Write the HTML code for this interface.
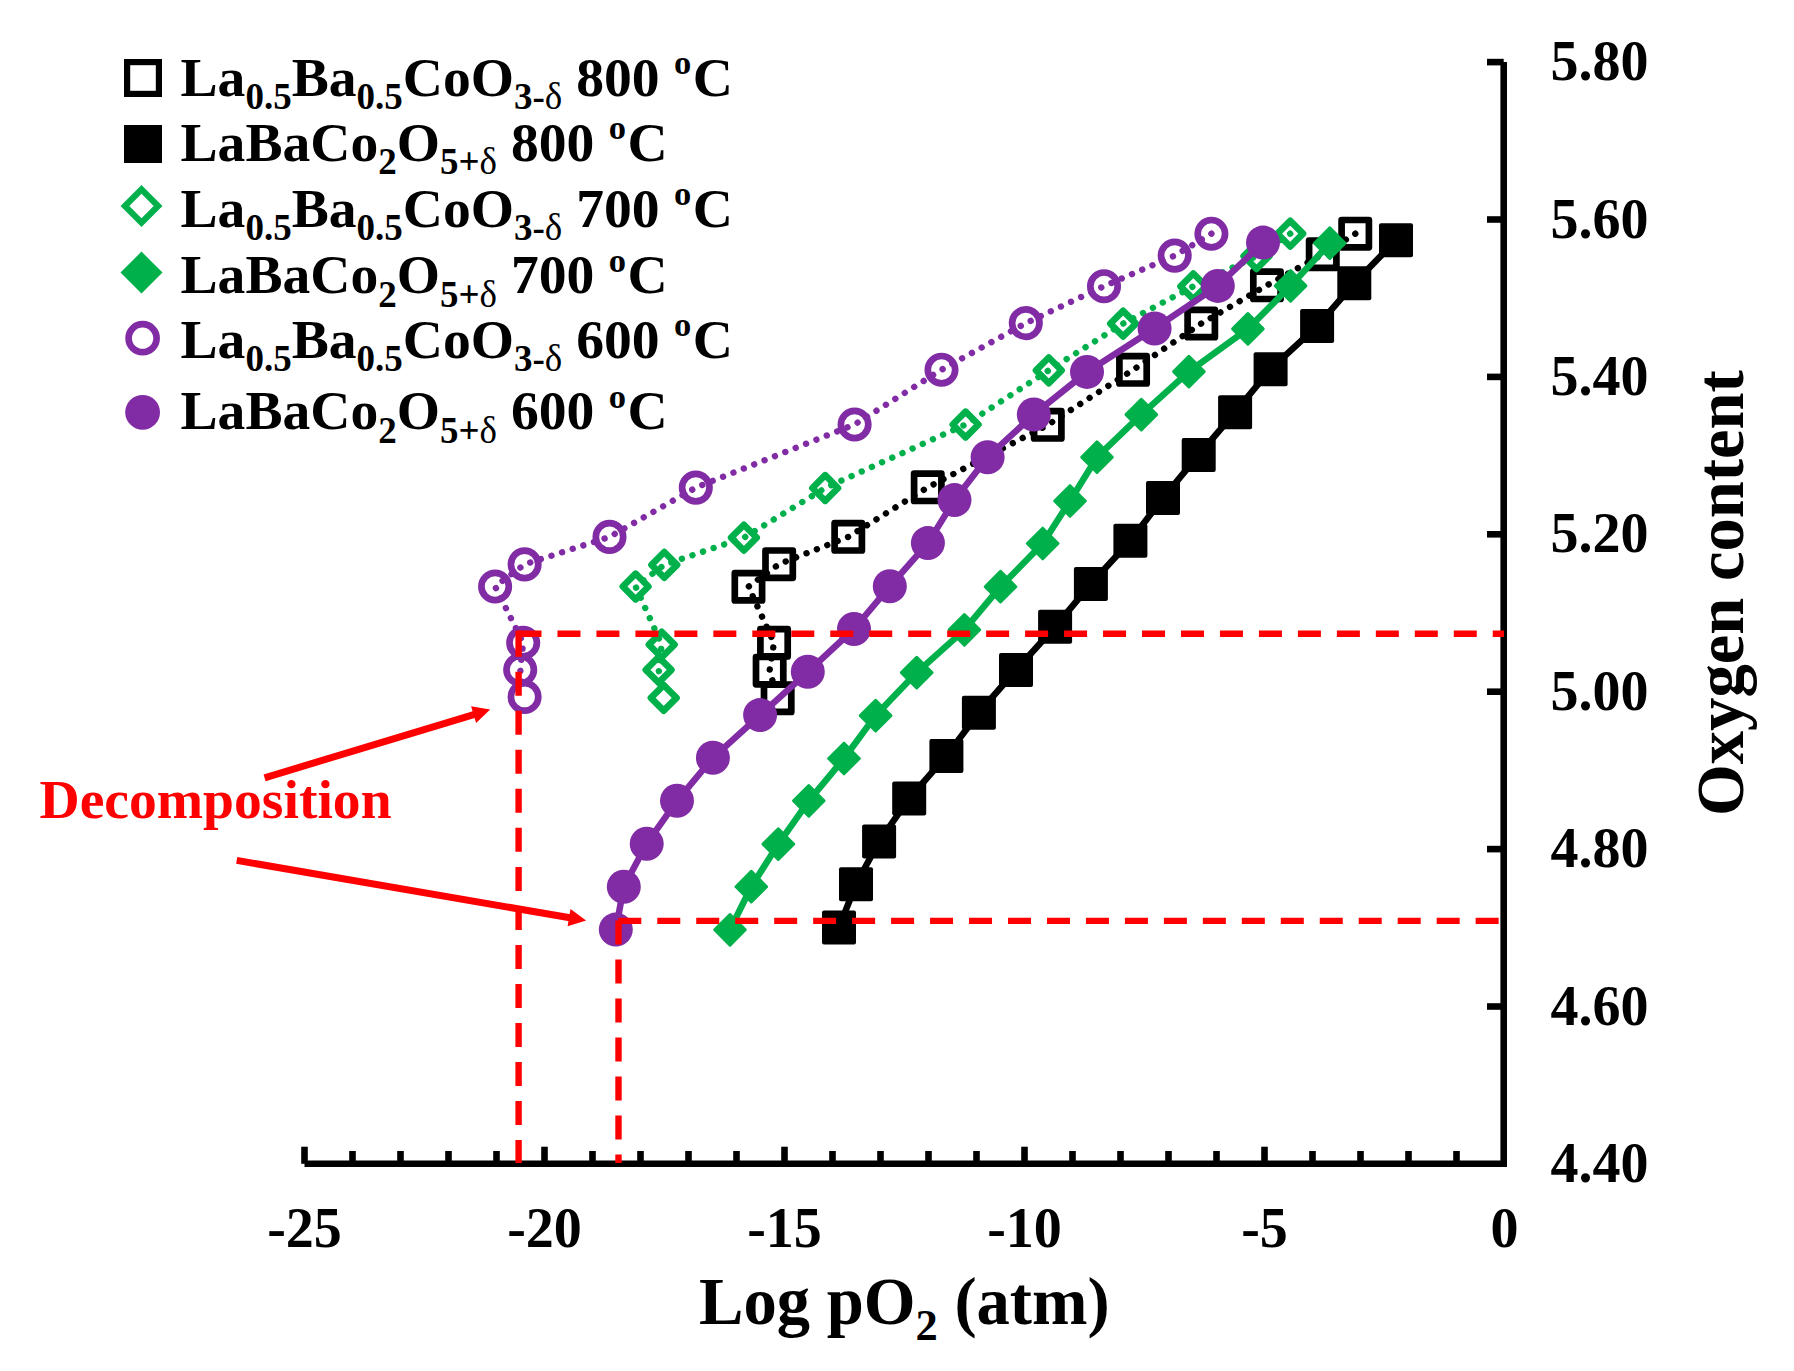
<!DOCTYPE html>
<html lang="en"><head><meta charset="utf-8"><title>Oxygen content vs Log pO2</title>
<style>
html,body{margin:0;padding:0;background:#fff;}
body{width:1794px;height:1371px;overflow:hidden;}
svg{display:block;}
text{font-family:"Liberation Serif",serif;font-weight:bold;}
.tk{font-size:56px;}
.lg{font-size:55.6px;}
.sb{font-size:37px;}
.ax{font-size:66.6px;}
.axs{font-size:44.5px;}
</style></head><body>
<svg width="1794" height="1371" viewBox="0 0 1794 1371">
<rect width="1794" height="1371" fill="#fff"/>
<g stroke="#000" stroke-width="6.6" fill="none" stroke-linecap="butt">
<line x1="1503.7" y1="62.1" x2="1503.7" y2="1167.1"/>
<line x1="304.5" y1="1163.8" x2="1507.0" y2="1163.8"/>
<line x1="1487" y1="62.1" x2="1503.7" y2="62.1"/>
<line x1="1487" y1="219.5" x2="1503.7" y2="219.5"/>
<line x1="1487" y1="376.9" x2="1503.7" y2="376.9"/>
<line x1="1487" y1="534.3" x2="1503.7" y2="534.3"/>
<line x1="1487" y1="691.7" x2="1503.7" y2="691.7"/>
<line x1="1487" y1="849.1" x2="1503.7" y2="849.1"/>
<line x1="1487" y1="1006.5" x2="1503.7" y2="1006.5"/>
<line x1="304.5" y1="1146.7" x2="304.5" y2="1163.8"/>
<line x1="352.5" y1="1151" x2="352.5" y2="1163.8"/>
<line x1="400.5" y1="1151" x2="400.5" y2="1163.8"/>
<line x1="448.5" y1="1151" x2="448.5" y2="1163.8"/>
<line x1="496.5" y1="1151" x2="496.5" y2="1163.8"/>
<line x1="544.5" y1="1146.7" x2="544.5" y2="1163.8"/>
<line x1="592.5" y1="1151" x2="592.5" y2="1163.8"/>
<line x1="640.5" y1="1151" x2="640.5" y2="1163.8"/>
<line x1="688.5" y1="1151" x2="688.5" y2="1163.8"/>
<line x1="736.5" y1="1151" x2="736.5" y2="1163.8"/>
<line x1="784.5" y1="1146.7" x2="784.5" y2="1163.8"/>
<line x1="832.5" y1="1151" x2="832.5" y2="1163.8"/>
<line x1="880.5" y1="1151" x2="880.5" y2="1163.8"/>
<line x1="928.5" y1="1151" x2="928.5" y2="1163.8"/>
<line x1="976.5" y1="1151" x2="976.5" y2="1163.8"/>
<line x1="1024.5" y1="1146.7" x2="1024.5" y2="1163.8"/>
<line x1="1072.5" y1="1151" x2="1072.5" y2="1163.8"/>
<line x1="1120.5" y1="1151" x2="1120.5" y2="1163.8"/>
<line x1="1168.5" y1="1151" x2="1168.5" y2="1163.8"/>
<line x1="1216.5" y1="1151" x2="1216.5" y2="1163.8"/>
<line x1="1264.5" y1="1146.7" x2="1264.5" y2="1163.8"/>
<line x1="1312.5" y1="1151" x2="1312.5" y2="1163.8"/>
<line x1="1360.5" y1="1151" x2="1360.5" y2="1163.8"/>
<line x1="1408.5" y1="1151" x2="1408.5" y2="1163.8"/>
<line x1="1456.5" y1="1151" x2="1456.5" y2="1163.8"/>
</g>
<text class="tk" x="1550.5" y="80.2">5.80</text>
<text class="tk" x="1550.5" y="237.6">5.60</text>
<text class="tk" x="1550.5" y="395.0">5.40</text>
<text class="tk" x="1550.5" y="552.4">5.20</text>
<text class="tk" x="1550.5" y="709.8">5.00</text>
<text class="tk" x="1550.5" y="867.2">4.80</text>
<text class="tk" x="1550.5" y="1024.6">4.60</text>
<text class="tk" x="1550.5" y="1182.0">4.40</text>
<text class="tk" x="304.5" y="1246.9" text-anchor="middle">-25</text>
<text class="tk" x="544.5" y="1246.9" text-anchor="middle">-20</text>
<text class="tk" x="784.5" y="1246.9" text-anchor="middle">-15</text>
<text class="tk" x="1024.5" y="1246.9" text-anchor="middle">-10</text>
<text class="tk" x="1264.5" y="1246.9" text-anchor="middle">-5</text>
<text class="tk" x="1504.5" y="1246.9" text-anchor="middle">0</text>
<text class="ax" x="699" y="1324">Log pO<tspan class="axs" dy="16">2</tspan><tspan dy="-16"> (atm)</tspan></text>
<text class="ax" transform="translate(1743.3,816) rotate(-90)" x="0" y="0">Oxygen content</text>
<polyline points="1355.3,233.7 1322.8,254.2 1267.0,285.3 1201.3,323.5 1133.1,369.8 1047.8,424.9 927.8,487.3 848.2,536.9 779.1,564.1 748.4,586.7 774.0,642.8 769.6,670.6 773.7,684.8" fill="none" stroke="#000000" stroke-width="6.4" stroke-linejoin="round" stroke-linecap="round" stroke-dasharray="0.01 11.15"/>
<rect x="764.0" y="684.6" width="27.3" height="27.3" fill="none" stroke="#000000" stroke-width="6.7" stroke-linejoin="round"/>
<rect x="756.0" y="657.0" width="27.3" height="27.3" fill="none" stroke="#000000" stroke-width="6.7" stroke-linejoin="round"/>
<rect x="760.4" y="629.1" width="27.3" height="27.3" fill="none" stroke="#000000" stroke-width="6.7" stroke-linejoin="round"/>
<rect x="734.8" y="573.1" width="27.3" height="27.3" fill="none" stroke="#000000" stroke-width="6.7" stroke-linejoin="round"/>
<rect x="765.5" y="550.5" width="27.3" height="27.3" fill="none" stroke="#000000" stroke-width="6.7" stroke-linejoin="round"/>
<rect x="834.6" y="523.2" width="27.3" height="27.3" fill="none" stroke="#000000" stroke-width="6.7" stroke-linejoin="round"/>
<rect x="914.1" y="473.7" width="27.3" height="27.3" fill="none" stroke="#000000" stroke-width="6.7" stroke-linejoin="round"/>
<rect x="1034.1" y="411.2" width="27.3" height="27.3" fill="none" stroke="#000000" stroke-width="6.7" stroke-linejoin="round"/>
<rect x="1119.4" y="356.2" width="27.3" height="27.3" fill="none" stroke="#000000" stroke-width="6.7" stroke-linejoin="round"/>
<rect x="1187.6" y="309.9" width="27.3" height="27.3" fill="none" stroke="#000000" stroke-width="6.7" stroke-linejoin="round"/>
<rect x="1253.3" y="271.7" width="27.3" height="27.3" fill="none" stroke="#000000" stroke-width="6.7" stroke-linejoin="round"/>
<rect x="1309.1" y="240.5" width="27.3" height="27.3" fill="none" stroke="#000000" stroke-width="6.7" stroke-linejoin="round"/>
<rect x="1341.6" y="220.0" width="27.3" height="27.3" fill="none" stroke="#000000" stroke-width="6.7" stroke-linejoin="round"/>
<polyline points="839.0,927.4 856.0,884.3 879.1,841.5 909.2,798.4 946.4,755.9 978.9,712.7 1016.0,670.0 1055.1,626.8 1090.9,583.9 1130.4,540.7 1163.0,498.0 1198.7,454.9 1235.1,412.2 1270.6,369.2 1317.1,326.1 1354.3,283.3 1396.0,240.2" fill="none" stroke="#000000" stroke-width="6.5" stroke-linejoin="round" stroke-linecap="round"/>
<rect x="822.0" y="910.4" width="34.0" height="34.0" rx="2" fill="#000000"/>
<rect x="839.0" y="867.3" width="34.0" height="34.0" rx="2" fill="#000000"/>
<rect x="862.1" y="824.5" width="34.0" height="34.0" rx="2" fill="#000000"/>
<rect x="892.2" y="781.4" width="34.0" height="34.0" rx="2" fill="#000000"/>
<rect x="929.4" y="738.9" width="34.0" height="34.0" rx="2" fill="#000000"/>
<rect x="961.9" y="695.7" width="34.0" height="34.0" rx="2" fill="#000000"/>
<rect x="999.0" y="653.0" width="34.0" height="34.0" rx="2" fill="#000000"/>
<rect x="1038.1" y="609.8" width="34.0" height="34.0" rx="2" fill="#000000"/>
<rect x="1073.9" y="566.9" width="34.0" height="34.0" rx="2" fill="#000000"/>
<rect x="1113.4" y="523.7" width="34.0" height="34.0" rx="2" fill="#000000"/>
<rect x="1146.0" y="481.0" width="34.0" height="34.0" rx="2" fill="#000000"/>
<rect x="1181.7" y="437.9" width="34.0" height="34.0" rx="2" fill="#000000"/>
<rect x="1218.1" y="395.2" width="34.0" height="34.0" rx="2" fill="#000000"/>
<rect x="1253.6" y="352.2" width="34.0" height="34.0" rx="2" fill="#000000"/>
<rect x="1300.1" y="309.1" width="34.0" height="34.0" rx="2" fill="#000000"/>
<rect x="1337.3" y="266.3" width="34.0" height="34.0" rx="2" fill="#000000"/>
<rect x="1379.0" y="223.2" width="34.0" height="34.0" rx="2" fill="#000000"/>
<polyline points="1290.2,233.7 1256.5,256.2 1193.3,286.3 1123.1,323.6 1048.8,370.3 965.6,424.5 825.2,488.0 743.9,537.7 664.3,564.8 635.6,586.5 661.7,644.7 658.6,669.8 661.2,684.1" fill="none" stroke="#00B04B" stroke-width="6.4" stroke-linejoin="round" stroke-linecap="round" stroke-dasharray="0.01 11.15"/>
<path d="M663.7 685.1L676.5 697.9L663.7 710.7L650.9 697.9Z" fill="none" stroke="#00B04B" stroke-width="6.7" stroke-linejoin="round"/>
<path d="M658.6 657.0L671.4 669.8L658.6 682.6L645.8 669.8Z" fill="none" stroke="#00B04B" stroke-width="6.7" stroke-linejoin="round"/>
<path d="M661.7 631.9L674.5 644.7L661.7 657.5L648.9 644.7Z" fill="none" stroke="#00B04B" stroke-width="6.7" stroke-linejoin="round"/>
<path d="M635.6 573.7L648.4 586.5L635.6 599.3L622.8 586.5Z" fill="none" stroke="#00B04B" stroke-width="6.7" stroke-linejoin="round"/>
<path d="M664.3 552.0L677.1 564.8L664.3 577.6L651.5 564.8Z" fill="none" stroke="#00B04B" stroke-width="6.7" stroke-linejoin="round"/>
<path d="M743.9 524.9L756.7 537.7L743.9 550.5L731.1 537.7Z" fill="none" stroke="#00B04B" stroke-width="6.7" stroke-linejoin="round"/>
<path d="M825.2 475.2L838.0 488.0L825.2 500.8L812.4 488.0Z" fill="none" stroke="#00B04B" stroke-width="6.7" stroke-linejoin="round"/>
<path d="M965.6 411.7L978.4 424.5L965.6 437.3L952.8 424.5Z" fill="none" stroke="#00B04B" stroke-width="6.7" stroke-linejoin="round"/>
<path d="M1048.8 357.5L1061.6 370.3L1048.8 383.1L1036.0 370.3Z" fill="none" stroke="#00B04B" stroke-width="6.7" stroke-linejoin="round"/>
<path d="M1123.1 310.8L1135.9 323.6L1123.1 336.4L1110.3 323.6Z" fill="none" stroke="#00B04B" stroke-width="6.7" stroke-linejoin="round"/>
<path d="M1193.3 273.5L1206.1 286.3L1193.3 299.1L1180.5 286.3Z" fill="none" stroke="#00B04B" stroke-width="6.7" stroke-linejoin="round"/>
<path d="M1256.5 243.4L1269.3 256.2L1256.5 269.0L1243.7 256.2Z" fill="none" stroke="#00B04B" stroke-width="6.7" stroke-linejoin="round"/>
<path d="M1290.2 220.9L1303.0 233.7L1290.2 246.5L1277.4 233.7Z" fill="none" stroke="#00B04B" stroke-width="6.7" stroke-linejoin="round"/>
<polyline points="730.0,929.8 751.3,886.7 778.3,844.1 808.8,800.8 844.0,758.5 875.6,715.6 916.7,672.6 964.4,629.8 1000.5,586.7 1042.7,543.5 1070.0,501.0 1097.0,457.2 1141.3,414.6 1188.9,371.6 1247.9,328.9 1290.6,285.9 1329.8,243.2" fill="none" stroke="#00B04B" stroke-width="6.5" stroke-linejoin="round" stroke-linecap="round"/>
<path d="M730.0 914.5L745.3 929.8L730.0 945.1L714.7 929.8Z" fill="#00B04B" stroke="#00B04B" stroke-width="3" stroke-linejoin="round"/>
<path d="M751.3 871.4L766.6 886.7L751.3 902.0L736.0 886.7Z" fill="#00B04B" stroke="#00B04B" stroke-width="3" stroke-linejoin="round"/>
<path d="M778.3 828.8L793.6 844.1L778.3 859.4L763.0 844.1Z" fill="#00B04B" stroke="#00B04B" stroke-width="3" stroke-linejoin="round"/>
<path d="M808.8 785.5L824.1 800.8L808.8 816.1L793.5 800.8Z" fill="#00B04B" stroke="#00B04B" stroke-width="3" stroke-linejoin="round"/>
<path d="M844.0 743.2L859.3 758.5L844.0 773.8L828.7 758.5Z" fill="#00B04B" stroke="#00B04B" stroke-width="3" stroke-linejoin="round"/>
<path d="M875.6 700.3L890.9 715.6L875.6 730.9L860.3 715.6Z" fill="#00B04B" stroke="#00B04B" stroke-width="3" stroke-linejoin="round"/>
<path d="M916.7 657.3L932.0 672.6L916.7 687.9L901.4 672.6Z" fill="#00B04B" stroke="#00B04B" stroke-width="3" stroke-linejoin="round"/>
<path d="M964.4 614.5L979.7 629.8L964.4 645.1L949.1 629.8Z" fill="#00B04B" stroke="#00B04B" stroke-width="3" stroke-linejoin="round"/>
<path d="M1000.5 571.4L1015.8 586.7L1000.5 602.0L985.2 586.7Z" fill="#00B04B" stroke="#00B04B" stroke-width="3" stroke-linejoin="round"/>
<path d="M1042.7 528.2L1058.0 543.5L1042.7 558.8L1027.4 543.5Z" fill="#00B04B" stroke="#00B04B" stroke-width="3" stroke-linejoin="round"/>
<path d="M1070.0 485.7L1085.3 501.0L1070.0 516.3L1054.7 501.0Z" fill="#00B04B" stroke="#00B04B" stroke-width="3" stroke-linejoin="round"/>
<path d="M1097.0 441.9L1112.3 457.2L1097.0 472.5L1081.7 457.2Z" fill="#00B04B" stroke="#00B04B" stroke-width="3" stroke-linejoin="round"/>
<path d="M1141.3 399.3L1156.6 414.6L1141.3 429.9L1126.0 414.6Z" fill="#00B04B" stroke="#00B04B" stroke-width="3" stroke-linejoin="round"/>
<path d="M1188.9 356.3L1204.2 371.6L1188.9 386.9L1173.6 371.6Z" fill="#00B04B" stroke="#00B04B" stroke-width="3" stroke-linejoin="round"/>
<path d="M1247.9 313.6L1263.2 328.9L1247.9 344.2L1232.6 328.9Z" fill="#00B04B" stroke="#00B04B" stroke-width="3" stroke-linejoin="round"/>
<path d="M1290.6 270.6L1305.9 285.9L1290.6 301.2L1275.3 285.9Z" fill="#00B04B" stroke="#00B04B" stroke-width="3" stroke-linejoin="round"/>
<path d="M1329.8 227.9L1345.1 243.2L1329.8 258.5L1314.5 243.2Z" fill="#00B04B" stroke="#00B04B" stroke-width="3" stroke-linejoin="round"/>
<polyline points="1211.4,233.7 1174.7,255.6 1104.0,286.2 1025.8,323.1 941.5,369.7 854.6,424.5 695.8,487.6 609.5,536.9 524.6,564.4 495.1,586.5 523.2,642.7 520.2,669.8 522.4,683.1" fill="none" stroke="#812CA5" stroke-width="6.4" stroke-linejoin="round" stroke-linecap="round" stroke-dasharray="0.01 11.15"/>
<circle cx="524.6" cy="696.9" r="13.7" fill="none" stroke="#812CA5" stroke-width="6.7"/>
<circle cx="520.2" cy="669.8" r="13.7" fill="none" stroke="#812CA5" stroke-width="6.7"/>
<circle cx="523.2" cy="642.7" r="13.7" fill="none" stroke="#812CA5" stroke-width="6.7"/>
<circle cx="495.1" cy="586.5" r="13.7" fill="none" stroke="#812CA5" stroke-width="6.7"/>
<circle cx="524.6" cy="564.4" r="13.7" fill="none" stroke="#812CA5" stroke-width="6.7"/>
<circle cx="609.5" cy="536.9" r="13.7" fill="none" stroke="#812CA5" stroke-width="6.7"/>
<circle cx="695.8" cy="487.6" r="13.7" fill="none" stroke="#812CA5" stroke-width="6.7"/>
<circle cx="854.6" cy="424.5" r="13.7" fill="none" stroke="#812CA5" stroke-width="6.7"/>
<circle cx="941.5" cy="369.7" r="13.7" fill="none" stroke="#812CA5" stroke-width="6.7"/>
<circle cx="1025.8" cy="323.1" r="13.7" fill="none" stroke="#812CA5" stroke-width="6.7"/>
<circle cx="1104.0" cy="286.2" r="13.7" fill="none" stroke="#812CA5" stroke-width="6.7"/>
<circle cx="1174.7" cy="255.6" r="13.7" fill="none" stroke="#812CA5" stroke-width="6.7"/>
<circle cx="1211.4" cy="233.7" r="13.7" fill="none" stroke="#812CA5" stroke-width="6.7"/>
<polyline points="615.8,929.6 623.8,886.7 646.7,843.7 677.0,800.8 712.9,757.8 760.1,715.1 807.8,671.8 854.0,629.0 889.8,586.3 927.9,543.1 954.5,500.1 987.6,457.2 1033.8,414.5 1087.0,371.9 1154.6,328.5 1217.8,285.9 1263.0,242.6" fill="none" stroke="#812CA5" stroke-width="6.5" stroke-linejoin="round" stroke-linecap="round"/>
<circle cx="615.8" cy="929.6" r="17.0" fill="#812CA5"/>
<circle cx="623.8" cy="886.7" r="17.0" fill="#812CA5"/>
<circle cx="646.7" cy="843.7" r="17.0" fill="#812CA5"/>
<circle cx="677.0" cy="800.8" r="17.0" fill="#812CA5"/>
<circle cx="712.9" cy="757.8" r="17.0" fill="#812CA5"/>
<circle cx="760.1" cy="715.1" r="17.0" fill="#812CA5"/>
<circle cx="807.8" cy="671.8" r="17.0" fill="#812CA5"/>
<circle cx="854.0" cy="629.0" r="17.0" fill="#812CA5"/>
<circle cx="889.8" cy="586.3" r="17.0" fill="#812CA5"/>
<circle cx="927.9" cy="543.1" r="17.0" fill="#812CA5"/>
<circle cx="954.5" cy="500.1" r="17.0" fill="#812CA5"/>
<circle cx="987.6" cy="457.2" r="17.0" fill="#812CA5"/>
<circle cx="1033.8" cy="414.5" r="17.0" fill="#812CA5"/>
<circle cx="1087.0" cy="371.9" r="17.0" fill="#812CA5"/>
<circle cx="1154.6" cy="328.5" r="17.0" fill="#812CA5"/>
<circle cx="1217.8" cy="285.9" r="17.0" fill="#812CA5"/>
<circle cx="1263.0" cy="242.6" r="17.0" fill="#812CA5"/>
<g stroke="#FF0000" stroke-width="6.4" fill="none">
<line x1="518.5" y1="633.7" x2="1504" y2="633.7" stroke-dasharray="23 15.97"/>
<line x1="518.6" y1="632.7" x2="518.6" y2="1163" stroke-dasharray="24 15.03"/>
<line x1="618.3" y1="920.9" x2="1504" y2="920.9" stroke-dasharray="23 15.97"/>
<line x1="618.5" y1="920.4" x2="618.5" y2="1163" stroke-dasharray="24 15.03"/>
</g>
<rect x="515.4" y="630.5" width="6.4" height="4" fill="#FF0000"/>
<line x1="264.6" y1="777.8" x2="474.6" y2="714.3" stroke="#FF0000" stroke-width="7"/><path d="M490.2 709.6L476.1 722.9L471.1 706.3Z" fill="#FF0000"/>
<line x1="236.7" y1="860.4" x2="570.0" y2="917.8" stroke="#FF0000" stroke-width="7"/><path d="M586.1 920.6L567.6 926.2L570.5 909.1Z" fill="#FF0000"/>
<text x="39.5" y="817.5" font-size="55.6px" fill="#FF0000">Decomposition</text>
<rect x="127.1" y="62.1" width="31.8" height="31.8" fill="none" stroke="#000000" stroke-width="6.2"/>
<text class="lg" x="180.5" y="95.6">La<tspan class="sb" dy="13.3">0.5</tspan><tspan dy="-13.3">Ba</tspan><tspan class="sb" dy="13.3">0.5</tspan><tspan dy="-13.3">CoO</tspan><tspan class="sb" dy="13.3">3-<tspan font-weight="normal">δ</tspan></tspan><tspan dy="-13.3"> 800 </tspan><tspan font-size="34.5px" dx="0.5" dy="-21.7">o</tspan><tspan dx="1.6" dy="21.7">C</tspan></text>
<rect x="124.0" y="125.0" width="38" height="38" fill="#000000"/>
<text class="lg" x="180.5" y="161.0">LaBaCo<tspan class="sb" dy="13.3">2</tspan><tspan dy="-13.3">O</tspan><tspan class="sb" dy="13.3">5+<tspan font-weight="normal">δ</tspan></tspan><tspan dy="-13.3"> 800 </tspan><tspan font-size="34.5px" dx="0.5" dy="-21.7">o</tspan><tspan dx="1.6" dy="21.7">C</tspan></text>
<path d="M141.5 189.4L158.1 206.0L141.5 222.6L124.9 206.0Z" fill="none" stroke="#00B04B" stroke-width="6.2"/>
<text class="lg" x="180.5" y="227.1">La<tspan class="sb" dy="13.3">0.5</tspan><tspan dy="-13.3">Ba</tspan><tspan class="sb" dy="13.3">0.5</tspan><tspan dy="-13.3">CoO</tspan><tspan class="sb" dy="13.3">3-<tspan font-weight="normal">δ</tspan></tspan><tspan dy="-13.3"> 700 </tspan><tspan font-size="34.5px" dx="0.5" dy="-21.7">o</tspan><tspan dx="1.6" dy="21.7">C</tspan></text>
<path d="M141.5 251.6L162.5 272.6L141.5 293.6L120.5 272.6Z" fill="#00B04B"/>
<text class="lg" x="180.5" y="293.3">LaBaCo<tspan class="sb" dy="13.3">2</tspan><tspan dy="-13.3">O</tspan><tspan class="sb" dy="13.3">5+<tspan font-weight="normal">δ</tspan></tspan><tspan dy="-13.3"> 700 </tspan><tspan font-size="34.5px" dx="0.5" dy="-21.7">o</tspan><tspan dx="1.6" dy="21.7">C</tspan></text>
<circle cx="142.6" cy="338.2" r="14.0" fill="none" stroke="#812CA5" stroke-width="6.7"/>
<text class="lg" x="180.5" y="357.8">La<tspan class="sb" dy="13.3">0.5</tspan><tspan dy="-13.3">Ba</tspan><tspan class="sb" dy="13.3">0.5</tspan><tspan dy="-13.3">CoO</tspan><tspan class="sb" dy="13.3">3-<tspan font-weight="normal">δ</tspan></tspan><tspan dy="-13.3"> 600 </tspan><tspan font-size="34.5px" dx="0.5" dy="-21.7">o</tspan><tspan dx="1.6" dy="21.7">C</tspan></text>
<circle cx="142.6" cy="412.3" r="17.4" fill="#812CA5"/>
<text class="lg" x="180.5" y="429.3">LaBaCo<tspan class="sb" dy="13.3">2</tspan><tspan dy="-13.3">O</tspan><tspan class="sb" dy="13.3">5+<tspan font-weight="normal">δ</tspan></tspan><tspan dy="-13.3"> 600 </tspan><tspan font-size="34.5px" dx="0.5" dy="-21.7">o</tspan><tspan dx="1.6" dy="21.7">C</tspan></text>
</svg></body></html>
